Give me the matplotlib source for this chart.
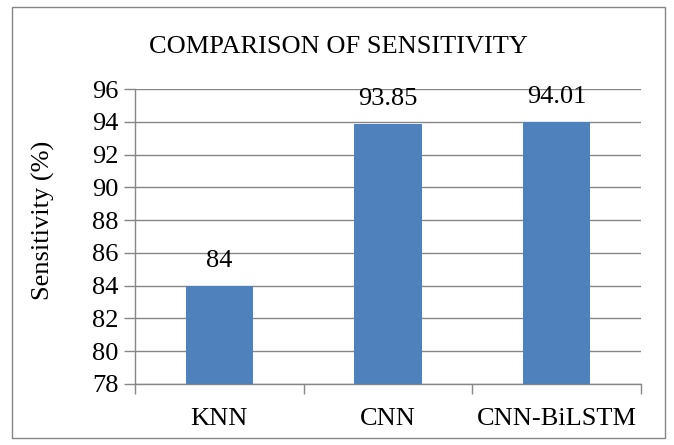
import matplotlib.pyplot as plt
from matplotlib.patches import Rectangle

categories = ["KNN", "CNN", "CNN-BiLSTM"]
sensitivity = [84, 93.85, 94.01]
value_labels = ["84", "93.85", "94.01"]
yticks = [78, 80, 82, 84, 86, 88, 90, 92, 94, 96]

plt.rcParams['font.family'] = ['Liberation Serif', 'DejaVu Serif']

W, H = 674, 445
fig = plt.figure(figsize=(W / 100, H / 100), dpi=100)

# outer chart frame
fig.patches.append(Rectangle((12 / W, 1 - 438 / H), (665 - 12) / W, (438 - 7) / H,
                             transform=fig.transFigure, fill=False,
                             edgecolor='#868686', linewidth=1.0))

left, right, top, bottom = 135, 641, 89, 384
ax = fig.add_axes([left / W, 1 - bottom / H, (right - left) / W, (bottom - top) / H])

grid_c = '#868686'
x = list(range(len(categories)))
ax.bar(x, sensitivity, width=0.4, color='#4F81BD', zorder=3)
ax.set_xlim(-0.5, len(categories) - 0.5)
ax.set_ylim(78, 96)
ax.set_yticks(yticks)
ax.set_yticklabels([str(t) for t in yticks], fontsize=19)
ax.yaxis.grid(True, color=grid_c, linewidth=1.0, zorder=0)
ax.set_axisbelow(True)

ax.set_xticks(x)
ax.set_xticklabels(categories, fontsize=19)
ax.tick_params(axis='x', length=0, pad=17)
ax.set_xticks([i - 0.5 for i in range(len(categories) + 1)], minor=True)
ax.tick_params(axis='x', which='minor', length=7, color=grid_c, width=1.0)
ax.tick_params(axis='y', length=8, color=grid_c, width=1.0, pad=4)

for s in ['top', 'right']:
    ax.spines[s].set_visible(False)
for s in ['left', 'bottom']:
    ax.spines[s].set_color(grid_c)
    ax.spines[s].set_linewidth(1.0)

for xi, v, lab in zip(x, sensitivity, value_labels):
    ax.annotate(lab, (xi, v), xytext=(0, 10), textcoords='offset points',
                ha='center', va='bottom', fontsize=19)

ax.set_ylabel("Sensitivity (%)", fontsize=19, va='center')
ax.yaxis.set_label_coords(-0.18, 0.553)

fig.text(338 / W, 1 - 47 / H, "COMPARISON OF SENSITIVITY",
         ha='center', va='center', fontsize=19)

fig.savefig("out.png", dpi=100)
